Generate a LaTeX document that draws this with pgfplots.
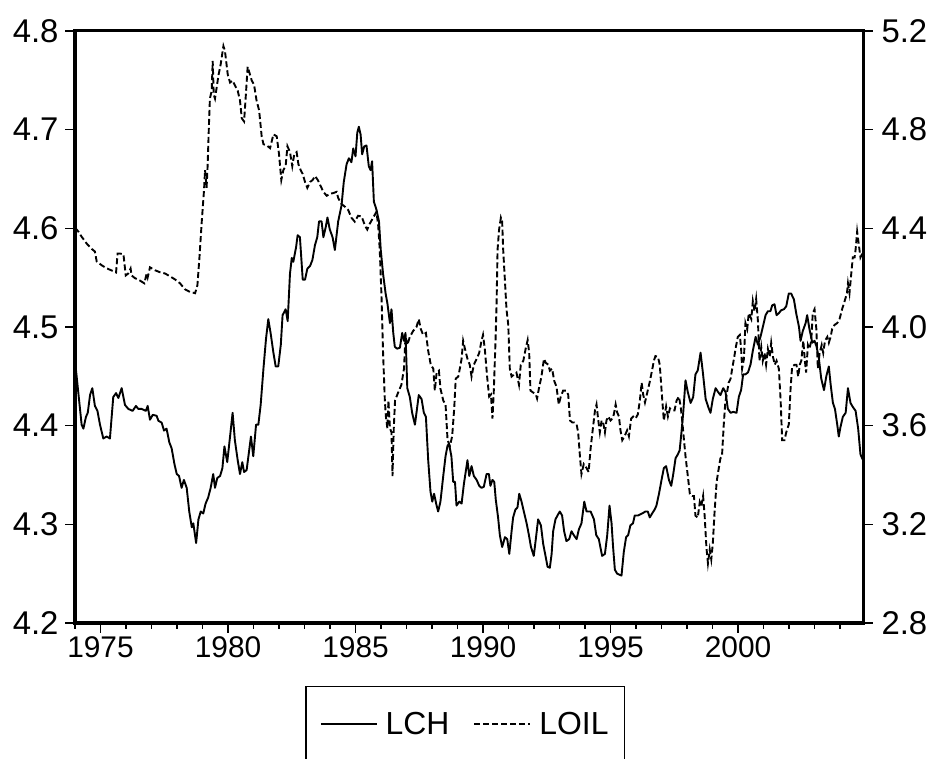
\documentclass[border=0pt]{standalone}
\usepackage{pgfplots}
\pgfplotsset{compat=1.18}
\usepackage{pgfplotstable}
\usepackage{fontspec}
\setmainfont{Liberation Sans}

\pgfplotstableread{
x y
1974.00 4.466
1974.26 4.401
1974.33 4.397
1974.43 4.409
1974.50 4.413
1974.59 4.431
1974.68 4.438
1974.78 4.420
1974.88 4.415
1974.98 4.401
1975.11 4.387
1975.24 4.389
1975.37 4.387
1975.50 4.429
1975.61 4.433
1975.70 4.428
1975.83 4.438
1975.96 4.421
1976.09 4.417
1976.26 4.415
1976.39 4.420
1976.48 4.417
1976.61 4.417
1976.78 4.415
1976.85 4.420
1976.94 4.406
1977.05 4.411
1977.20 4.410
1977.27 4.405
1977.40 4.403
1977.49 4.395
1977.59 4.397
1977.70 4.383
1977.79 4.377
1977.90 4.361
1977.99 4.351
1978.08 4.349
1978.18 4.337
1978.27 4.345
1978.38 4.337
1978.48 4.313
1978.58 4.297
1978.64 4.301
1978.75 4.281
1978.84 4.305
1978.93 4.313
1979.03 4.311
1979.12 4.321
1979.22 4.327
1979.32 4.337
1979.42 4.351
1979.49 4.337
1979.58 4.347
1979.69 4.349
1979.78 4.357
1979.86 4.379
1979.97 4.363
1980.08 4.389
1980.18 4.413
1980.27 4.385
1980.38 4.365
1980.47 4.351
1980.56 4.363
1980.63 4.353
1980.73 4.355
1980.82 4.373
1980.90 4.389
1980.99 4.369
1981.10 4.401
1981.19 4.401
1981.28 4.421
1981.39 4.458
1981.49 4.488
1981.58 4.508
1981.67 4.494
1981.78 4.474
1981.87 4.460
1981.97 4.460
1982.07 4.482
1982.14 4.512
1982.26 4.518
1982.34 4.506
1982.43 4.554
1982.50 4.570
1982.56 4.566
1982.67 4.581
1982.73 4.593
1982.82 4.591
1982.93 4.548
1983.02 4.548
1983.11 4.559
1983.22 4.562
1983.31 4.568
1983.41 4.583
1983.50 4.591
1983.57 4.607
1983.67 4.607
1983.74 4.591
1983.83 4.601
1983.90 4.611
1983.99 4.599
1984.10 4.591
1984.19 4.578
1984.32 4.607
1984.45 4.623
1984.54 4.647
1984.65 4.665
1984.74 4.671
1984.84 4.667
1984.91 4.681
1985.00 4.673
1985.07 4.697
1985.13 4.703
1985.20 4.695
1985.26 4.675
1985.34 4.683
1985.43 4.684
1985.52 4.663
1985.59 4.659
1985.65 4.668
1985.72 4.627
1985.82 4.619
1985.92 4.607
1985.99 4.578
1986.08 4.554
1986.18 4.534
1986.25 4.524
1986.35 4.504
1986.41 4.518
1986.48 4.494
1986.54 4.480
1986.63 4.478
1986.74 4.479
1986.83 4.494
1986.90 4.486
1986.96 4.494
1987.03 4.438
1987.13 4.429
1987.22 4.413
1987.33 4.401
1987.39 4.413
1987.48 4.431
1987.59 4.427
1987.68 4.413
1987.76 4.409
1987.85 4.365
1987.94 4.333
1988.01 4.323
1988.08 4.331
1988.18 4.319
1988.24 4.313
1988.33 4.323
1988.44 4.349
1988.53 4.369
1988.61 4.380
1988.67 4.381
1988.76 4.369
1988.83 4.343
1988.90 4.343
1988.96 4.319
1989.07 4.323
1989.16 4.321
1989.25 4.341
1989.39 4.365
1989.46 4.349
1989.55 4.359
1989.64 4.349
1989.75 4.345
1989.85 4.339
1989.94 4.337
1990.03 4.338
1990.14 4.351
1990.23 4.351
1990.29 4.339
1990.37 4.345
1990.44 4.343
1990.50 4.325
1990.59 4.307
1990.66 4.289
1990.75 4.277
1990.86 4.287
1990.95 4.285
1991.03 4.270
1991.12 4.293
1991.18 4.307
1991.27 4.315
1991.35 4.317
1991.42 4.331
1991.51 4.323
1991.60 4.313
1991.71 4.301
1991.80 4.289
1991.88 4.277
1991.99 4.268
1992.07 4.285
1992.16 4.305
1992.27 4.299
1992.36 4.280
1992.45 4.268
1992.53 4.257
1992.62 4.256
1992.69 4.270
1992.75 4.293
1992.84 4.305
1992.92 4.309
1993.01 4.313
1993.10 4.309
1993.18 4.293
1993.27 4.283
1993.38 4.285
1993.47 4.293
1993.56 4.289
1993.67 4.285
1993.76 4.295
1993.86 4.301
1993.97 4.323
1994.06 4.313
1994.22 4.313
1994.35 4.305
1994.44 4.289
1994.54 4.285
1994.67 4.268
1994.78 4.270
1994.87 4.289
1994.96 4.319
1995.04 4.301
1995.10 4.277
1995.17 4.254
1995.26 4.250
1995.43 4.248
1995.52 4.272
1995.61 4.287
1995.69 4.289
1995.78 4.299
1995.88 4.301
1995.95 4.309
1996.08 4.309
1996.24 4.311
1996.37 4.313
1996.46 4.313
1996.54 4.307
1996.63 4.311
1996.73 4.315
1996.80 4.319
1996.90 4.331
1997.00 4.345
1997.09 4.357
1997.18 4.359
1997.29 4.345
1997.38 4.339
1997.46 4.351
1997.55 4.367
1997.64 4.371
1997.71 4.375
1997.78 4.393
1997.85 4.413
1997.94 4.446
1998.03 4.434
1998.14 4.423
1998.24 4.429
1998.33 4.452
1998.42 4.456
1998.53 4.474
1998.62 4.454
1998.73 4.427
1998.83 4.419
1998.92 4.413
1999.01 4.427
1999.12 4.438
1999.22 4.434
1999.31 4.431
1999.42 4.438
1999.51 4.434
1999.60 4.417
1999.71 4.413
1999.81 4.414
1999.94 4.413
2000.03 4.429
2000.12 4.436
2000.20 4.452
2000.29 4.452
2000.39 4.454
2000.49 4.462
2000.58 4.476
2000.69 4.490
2000.78 4.482
2000.88 4.490
2000.99 4.502
2001.08 4.512
2001.17 4.516
2001.27 4.516
2001.34 4.522
2001.43 4.523
2001.51 4.512
2001.60 4.514
2001.69 4.517
2001.80 4.518
2001.89 4.521
2001.99 4.534
2002.08 4.534
2002.19 4.528
2002.28 4.514
2002.39 4.500
2002.45 4.486
2002.54 4.496
2002.65 4.504
2002.71 4.512
2002.80 4.498
2002.91 4.484
2003.00 4.486
2003.08 4.480
2003.17 4.468
2003.26 4.448
2003.37 4.436
2003.46 4.450
2003.56 4.460
2003.63 4.442
2003.72 4.423
2003.80 4.417
2003.89 4.401
2003.95 4.389
2004.02 4.399
2004.11 4.409
2004.22 4.413
2004.31 4.438
2004.41 4.423
2004.50 4.419
2004.61 4.415
2004.71 4.397
2004.80 4.371
2004.88 4.366
}\lch

\pgfplotstableread{
x y
1974.00 4.403
1974.13 4.387
1974.26 4.366
1974.46 4.338
1974.65 4.317
1974.78 4.306
1974.85 4.266
1975.05 4.250
1975.24 4.238
1975.44 4.229
1975.61 4.221
1975.67 4.298
1975.74 4.298
1975.90 4.295
1975.99 4.209
1976.09 4.217
1976.18 4.237
1976.22 4.209
1976.35 4.198
1976.55 4.188
1976.72 4.177
1976.81 4.217
1976.85 4.201
1976.94 4.242
1977.14 4.230
1977.33 4.222
1977.53 4.217
1977.73 4.205
1977.92 4.193
1978.12 4.177
1978.31 4.153
1978.51 4.142
1978.71 4.137
1978.80 4.169
1978.88 4.282
1978.97 4.427
1979.06 4.556
1979.10 4.636
1979.16 4.564
1979.20 4.652
1979.25 4.813
1979.29 4.926
1979.36 4.958
1979.40 5.079
1979.44 4.942
1979.49 4.926
1979.56 4.974
1979.63 5.023
1979.71 5.063
1979.82 5.139
1979.88 5.119
1979.99 5.023
1980.08 4.991
1980.18 4.999
1980.30 4.974
1980.38 4.958
1980.47 4.918
1980.54 4.846
1980.63 4.833
1980.69 4.926
1980.77 5.055
1980.84 5.031
1980.93 4.999
1981.02 4.983
1981.12 4.918
1981.22 4.878
1981.32 4.773
1981.39 4.741
1981.52 4.736
1981.65 4.725
1981.78 4.781
1981.91 4.773
1982.00 4.701
1982.09 4.596
1982.17 4.636
1982.26 4.652
1982.33 4.733
1982.43 4.709
1982.52 4.652
1982.60 4.701
1982.69 4.709
1982.76 4.660
1982.85 4.636
1982.93 4.620
1983.02 4.588
1983.11 4.564
1983.22 4.588
1983.32 4.596
1983.41 4.612
1983.52 4.596
1983.63 4.572
1983.74 4.548
1983.87 4.532
1984.00 4.540
1984.13 4.543
1984.26 4.548
1984.32 4.523
1984.45 4.499
1984.58 4.488
1984.71 4.475
1984.84 4.443
1984.97 4.427
1985.10 4.451
1985.24 4.448
1985.37 4.411
1985.46 4.395
1985.56 4.419
1985.69 4.443
1985.82 4.467
1985.89 4.411
1985.95 4.314
1986.02 4.121
1986.08 3.896
1986.15 3.702
1986.19 3.638
1986.25 3.589
1986.29 3.702
1986.35 3.589
1986.41 3.573
1986.45 3.396
1986.50 3.589
1986.55 3.702
1986.67 3.734
1986.80 3.766
1986.90 3.831
1986.96 3.960
1987.03 3.927
1987.13 3.960
1987.26 3.984
1987.39 4.000
1987.48 4.032
1987.56 3.992
1987.65 3.968
1987.76 3.976
1987.85 3.903
1987.95 3.847
1988.05 3.831
1988.11 3.742
1988.18 3.815
1988.27 3.823
1988.33 3.750
1988.44 3.702
1988.53 3.686
1988.61 3.541
1988.70 3.517
1988.79 3.557
1988.87 3.670
1988.93 3.791
1989.03 3.799
1989.09 3.831
1989.16 3.871
1989.22 3.944
1989.31 3.903
1989.39 3.871
1989.48 3.847
1989.55 3.799
1989.64 3.847
1989.75 3.871
1989.85 3.895
1989.94 3.944
1990.00 3.968
1990.07 3.911
1990.16 3.799
1990.24 3.718
1990.31 3.726
1990.37 3.629
1990.42 3.734
1990.49 3.944
1990.53 4.089
1990.57 4.314
1990.63 4.395
1990.70 4.443
1990.75 4.427
1990.79 4.314
1990.86 4.185
1990.92 4.072
1990.99 4.008
1991.05 3.831
1991.12 3.799
1991.21 3.807
1991.31 3.815
1991.41 3.766
1991.48 3.847
1991.58 3.863
1991.67 3.911
1991.75 3.947
1991.81 3.895
1991.86 3.742
1991.97 3.734
1992.07 3.726
1992.12 3.710
1992.19 3.750
1992.29 3.799
1992.39 3.871
1992.46 3.855
1992.56 3.847
1992.62 3.823
1992.71 3.831
1992.79 3.782
1992.88 3.758
1992.97 3.686
1993.05 3.718
1993.14 3.742
1993.25 3.742
1993.34 3.726
1993.41 3.621
1993.50 3.613
1993.58 3.613
1993.67 3.605
1993.73 3.573
1993.80 3.476
1993.86 3.404
1993.95 3.444
1994.06 3.428
1994.14 3.412
1994.22 3.509
1994.29 3.573
1994.39 3.662
1994.45 3.686
1994.52 3.621
1994.58 3.573
1994.65 3.621
1994.71 3.613
1994.78 3.573
1994.84 3.621
1994.91 3.637
1995.00 3.621
1995.07 3.629
1995.13 3.646
1995.20 3.686
1995.26 3.654
1995.33 3.637
1995.39 3.581
1995.46 3.541
1995.55 3.557
1995.65 3.581
1995.72 3.557
1995.81 3.629
1995.89 3.637
1995.98 3.629
1996.07 3.646
1996.15 3.702
1996.22 3.774
1996.28 3.726
1996.35 3.694
1996.44 3.734
1996.53 3.774
1996.61 3.815
1996.70 3.863
1996.76 3.882
1996.86 3.879
1996.93 3.847
1997.03 3.702
1997.09 3.621
1997.18 3.678
1997.25 3.637
1997.33 3.670
1997.42 3.662
1997.51 3.662
1997.59 3.702
1997.68 3.718
1997.75 3.678
1997.81 3.621
1997.88 3.541
1997.94 3.476
1998.03 3.396
1998.11 3.323
1998.20 3.315
1998.27 3.315
1998.33 3.235
1998.42 3.227
1998.50 3.291
1998.56 3.275
1998.63 3.315
1998.69 3.235
1998.76 3.106
1998.82 3.042
1998.89 3.098
1998.95 3.058
1999.01 3.122
1999.08 3.251
1999.16 3.372
1999.22 3.412
1999.31 3.468
1999.37 3.476
1999.44 3.605
1999.50 3.694
1999.58 3.742
1999.63 3.774
1999.71 3.791
1999.77 3.831
1999.84 3.871
1999.90 3.911
1999.99 3.960
2000.07 3.968
2000.12 3.911
2000.16 3.831
2000.23 3.871
2000.29 4.016
2000.36 3.992
2000.42 4.056
2000.52 4.032
2000.58 4.105
2000.65 4.064
2000.71 4.113
2000.78 4.024
2000.84 3.863
2000.91 3.919
2000.97 3.863
2001.04 3.895
2001.10 3.847
2001.17 3.911
2001.24 3.879
2001.30 3.936
2001.37 3.879
2001.44 3.847
2001.51 3.863
2001.60 3.831
2001.67 3.702
2001.73 3.541
2001.82 3.541
2001.89 3.573
2001.99 3.605
2002.06 3.750
2002.12 3.839
2002.22 3.847
2002.29 3.847
2002.36 3.799
2002.42 3.847
2002.48 3.863
2002.56 3.944
2002.62 3.863
2002.67 3.815
2002.74 3.927
2002.80 3.911
2002.87 3.944
2002.93 4.056
2003.00 4.072
2003.07 3.992
2003.13 3.831
2003.20 3.895
2003.28 3.927
2003.34 3.895
2003.41 3.944
2003.50 3.960
2003.56 3.936
2003.63 3.960
2003.69 3.992
2003.78 4.008
2003.89 4.016
2003.98 4.032
2004.08 4.072
2004.18 4.105
2004.27 4.137
2004.31 4.177
2004.37 4.137
2004.44 4.217
2004.50 4.282
2004.57 4.282
2004.61 4.314
2004.67 4.387
2004.74 4.330
2004.80 4.282
2004.88 4.300
}\loil

\pgfplotsset{
  eviews/.style={
    scale only axis, width=788bp, height=592bp,
    at={(75bp,136bp)}, anchor=south west,
    xmin=1974, xmax=2004.9,
    tick align=outside,
    major tick length=10bp, minor tick length=6bp,
    every tick/.style={black, line width=1.4bp},
    xticklabel style={font=\fontsize{30}{36}\selectfont},
    yticklabel style={font=\fontsize{33}{40}\selectfont},
    /pgf/number format/assume math mode=true,
  },
  lchstyle/.style={black, line width=1.9bp, line join=round},
  loilstyle/.style={black, line width=1.9bp, dash pattern=on 6bp off 3bp},
}

\begin{document}
\begin{tikzpicture}
\path[use as bounding box] (0bp,0bp) rectangle (931bp,759bp);
\begin{axis}[eviews,
  ymin=4.2, ymax=4.8,
  ytick={4.2,4.3,4.4,4.5,4.6,4.7,4.8},
  yticklabel style={/pgf/number format/.cd, fixed, fixed zerofill, precision=1, /tikz/.cd, xshift=-3bp},
  xtick={1975,1980,1985,1990,1995,2000},
  minor xtick={1974,1976,1977,1978,1979,1981,1982,1983,1984,1986,1987,1988,1989,1991,1992,1993,1994,1996,1997,1998,1999,2001,2002,2003,2004},
  xticklabel style={/pgf/number format/1000 sep={}},
  xtick pos=lower, ytick pos=lower,
  axis line style={line width=3bp},
  legend style={at={(0.292,-0.106)}, anchor=north west, draw=black, line width=1.5bp,
    font=\fontsize{32}{38}\selectfont, inner xsep=14bp, inner ysep=24bp,
    /tikz/every even column/.append style={column sep=22bp}},
  legend columns=2,
  legend image code/.code={\draw[#1] (0bp,0bp) -- (56bp,0bp); \path (62bp,0bp);},
]
\addplot[lchstyle] table {\lch};
\addlegendentry{LCH}
\addlegendimage{loilstyle}
\addlegendentry{LOIL}
\end{axis}
\begin{axis}[eviews,
  ymin=2.8, ymax=5.2,
  ytick={2.8,3.2,3.6,4.0,4.4,4.8,5.2},
  yticklabel style={/pgf/number format/.cd, fixed, fixed zerofill, precision=1, /tikz/.cd, xshift=5bp},
  axis x line=none, axis y line*=right,
  y axis line style={line width=3bp},
]
\addplot[loilstyle] table {\loil};
\end{axis}
\end{tikzpicture}
\end{document}
